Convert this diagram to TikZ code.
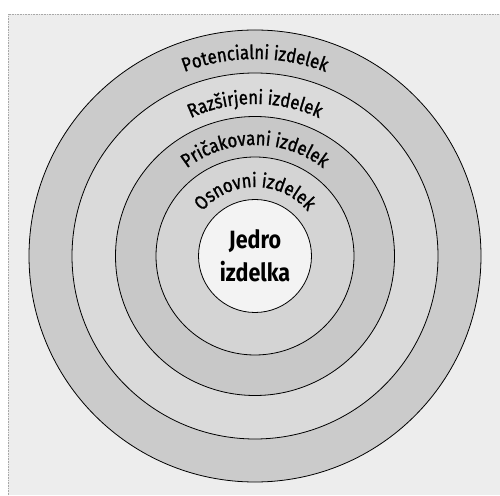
\documentclass[tikz,border=0pt]{standalone}
\usepackage{fontspec}
\setmainfont{Fira Sans}
\newfontfamily\arcfont[FakeStretch=0.86,FakeBold=1.2]{Fira Sans}
\newfontfamily\corefont[FakeStretch=0.86]{Fira Sans}
\usetikzlibrary{decorations.text,calc}
\definecolor{bgpaper}{HTML}{EDEDED}
\definecolor{ringA}{HTML}{CBCBCB}
\definecolor{ringB}{HTML}{DADADA}
\definecolor{ringC}{HTML}{C8C8C8}
\definecolor{ringD}{HTML}{D4D4D4}
\definecolor{coreF}{HTML}{F3F3F3}
\definecolor{framegray}{HTML}{A8A8A8}
\tikzset{
  ring/.style={draw=black, line width=0.8pt},
  arclabel/.style={decorate, decoration={text along path, text align=center,
     text format delimiters={|}{|}, text={|\arcfont\fontsize{19.5}{22}\selectfont|#1}}}
}
\begin{document}
\begin{tikzpicture}[x=1pt,y=1pt]
\useasboundingbox (0,0) rectangle (500,495);
\fill[white] (0,0) rectangle (500,495);
\fill[bgpaper] (8,0) rectangle (500,481);
\draw[framegray, line width=0.6pt, densely dotted] (8,0) -- (8,481) -- (500,481);
\coordinate (c) at (255,239);
\node[ring, fill=ringA, circle, minimum size=452pt, inner sep=0pt] (r1) at (c) {};
\node[ring, fill=ringB, circle, minimum size=366pt, inner sep=0pt] (r2) at (c) {};
\node[ring, fill=ringC, circle, minimum size=279pt, inner sep=0pt] (r3) at (c) {};
\node[ring, fill=ringD, circle, minimum size=198pt, inner sep=0pt] (r4) at (c) {};
\node[ring, fill=coreF, circle, minimum size=113pt, inner sep=0pt, align=center,
  font=\corefont\bfseries\fontsize{25}{33}\selectfont] (core) at (c) {Jedro\\izdelka};
\path[arclabel={Potencialni izdelek}] ($(c)+(180:197)$) arc[start angle=180, end angle=0, radius=197];
\path[arclabel={Razširjeni izdelek}] ($(c)+(180:152)$) arc[start angle=180, end angle=0, radius=152];
\path[arclabel={Pričakovani izdelek}] ($(c)+(180:111)$) arc[start angle=180, end angle=0, radius=111];
\path[arclabel={Osnovni izdelek}] ($(c)+(180:69)$) arc[start angle=180, end angle=0, radius=69];
\end{tikzpicture}
\end{document}
